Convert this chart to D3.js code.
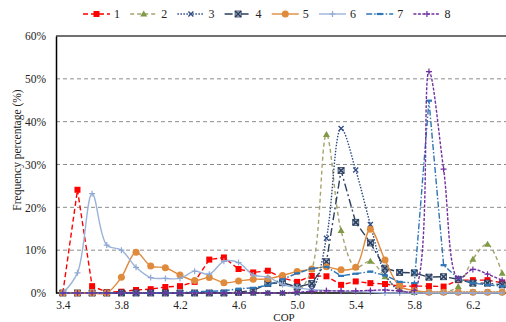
<!DOCTYPE html>
<html>
<head>
<meta charset="utf-8">
<script src="https://cdn.jsdelivr.net/npm/d3@7"></script>
<style>
  body { margin: 0; background: #fff; }
  svg { display: block; }
  svg text { font-family: "Liberation Serif", "DejaVu Serif", serif; }
</style>
</head>
<body>
<svg id="chart" width="506" height="322"></svg>
<script>
// COP categories (x axis), 3.4 .. 6.4 step 0.1
const cops = ["3.4","3.5","3.6","3.7","3.8","3.9","4.0","4.1","4.2","4.3","4.4","4.5","4.6","4.7","4.8","4.9",
  "5.0","5.1","5.2","5.3","5.4","5.5","5.6","5.7","5.8","5.9","6.0","6.1","6.2","6.3","6.4"];
const tickLabels = ["3.4","3.8","4.2","4.6","5.0","5.4","5.8","6.2"];
const yTicks = [0, 10, 20, 30, 40, 50, 60];
const seriesNames = ["1","2","3","4","5","6","7","8"];

// frequency percentage (%) per series
const s1 = [0, 24.1, 1.6, 0.2, 0.3, 0.7, 0.9, 1.4, 1.6, 2.6, 7.8, 8.3, 5.6, 4.8, 5.2, 3.5, 2.6, 4.0, 3.9, 1.9, 2.7, 2.3, 2.1, 1.6, 1.6, 1.6, 1.5, 3.0, 3.0, 3.0, 2.4];
const s2 = [0, 0, 0, 0, 0, 0, 0, 0, 0, 0, 0, 0, 0, 0, 0, 0, 0.3, 5.5, 37.0, 14.6, 6.0, 7.4, 3.8, 0.7, 0.2, 0.2, 0.2, 1.5, 7.9, 11.4, 4.6];
const s3 = [0, 0, 0, 0, 0, 0, 0, 0, 0, 0, 0, 0, 0, 0, 0, 0, 0, 0.8, 12.8, 38.4, 28.7, 16.0, 4.5, 0.5, 0.2, 0.2, 0.2, 0.2, 0.2, 0.2, 0.2];
const s4 = [0, 0, 0, 0, 0, 0, 0, 0, 0, 0, 0, 0, 0.2, 0.6, 2.2, 2.4, 1.4, 2.2, 7.3, 28.6, 16.5, 11.7, 5.8, 4.8, 4.7, 3.7, 3.8, 3.2, 2.3, 2.3, 1.9];
const s5 = [0, 0, 0, 0, 3.7, 9.5, 6.3, 5.9, 4.2, 2.9, 3.6, 2.4, 2.8, 3.2, 3.3, 4.1, 5.0, 5.6, 6.1, 5.4, 6.0, 14.9, 7.7, 1.6, 0.6, 0.2, 0.2, 0.2, 0.2, 0.2, 0.2];
const s6 = [0, 4.7, 23.2, 11.2, 10.0, 6.0, 3.6, 3.4, 3.4, 5.1, 4.4, 7.4, 7.1, 4.2, 3.7, 2.0, 1.2, 0.8, 0.6, 0.4, 0.3, 0.2, 0, 0, 0, 0, 0, 0, 0, 0, 0];
const s7 = [0, 0, 0, 0, 0, 0, 0, 0, 0.1, 0.3, 0.4, 0.5, 1.0, 1.2, 1.8, 3.2, 4.6, 5.7, 6.1, 4.0, 4.5, 5.0, 4.1, 2.6, 2.3, 44.9, 6.5, 3.4, 2.3, 1.9, 1.6];
const s8 = [0, 0, 0, 0, 0, 0, 0, 0, 0, 0, 0, 0, 0, 0, 0, 0, 0.2, 0.4, 0.5, 0.5, 0.5, 0.6, 0.7, 0.5, 0.6, 51.7, 28.9, 3.4, 5.5, 4.4, 3.0];

const allSeries = [s1, s2, s3, s4, s5, s6, s7, s8];

// look of each series
const styles = [
  {color: "#FF0000", dash: "5,3", smooth: false, marker: "square", mcolor: "#FF0000"},
  {color: "#A6A36C", dash: "4,3", smooth: true, marker: "triangle", mcolor: "#7E9A45"},
  {color: "#2E4A86", dash: "1.5,1.5", smooth: true, marker: "x", mcolor: "#2E4A86"},
  {color: "#2B3F5E", dash: "8,3,2,3", smooth: false, marker: "boxx", mcolor: "#2B3F5E"},
  {color: "#E08A3C", dash: null, smooth: true, marker: "circle", mcolor: "#E08A3C"},
  {color: "#9AB3D9", dash: null, smooth: true, marker: "plus", mcolor: "#8FA8D2"},
  {color: "#2E75B6", dash: "6,2,1.5,2", smooth: false, marker: "dash", mcolor: "#2E75B6"},
  {color: "#7030A0", dash: "3,1.5", smooth: true, marker: "plus", mcolor: "#7030A0"}
];

const FONT = "Liberation Serif, DejaVu Serif, serif";
const svg = d3.select("#chart");

const x = d3.scalePoint()
  .domain(cops)
  .range([55.5, 509.5])
  .padding(0.5);

const y = d3.scaleLinear()
  .domain([0, 60])
  .range([293, 36]);

// gridlines
svg.append("g")
  .selectAll("line")
  .data(yTicks.filter(d => d > 0 && d < 60))
  .enter()
  .append("line")
  .attr("x1", 56)
  .attr("x2", 506)
  .attr("y1", d => y(d))
  .attr("y2", d => y(d))
  .attr("stroke", "#8c8c8c")
  .attr("stroke-width", 1)
  .attr("stroke-dasharray", "4,3");

// top line at 60%
svg.append("line")
  .attr("x1", 56).attr("x2", 506)
  .attr("y1", y(60)).attr("y2", y(60))
  .attr("stroke", "#404040")
  .attr("stroke-width", 1.5);

// y axis
const yAxis = svg.append("g")
  .attr("transform", "translate(56,0)")
  .call(d3.axisLeft(y).tickValues(yTicks).tickSize(0).tickPadding(10).tickFormat(d => d + "%"));
yAxis.attr("font-family", FONT);
yAxis.select(".domain").attr("stroke", "#000").attr("stroke-width", 1.5);
yAxis.selectAll("text").attr("font-size", 11.5).attr("fill", "#222");

// x axis
const xAxis = svg.append("g")
  .attr("transform", "translate(0,293)")
  .call(d3.axisBottom(x).tickValues(tickLabels).tickSize(0).tickPadding(8));
xAxis.attr("font-family", FONT);
xAxis.select(".domain").attr("stroke", "#000").attr("stroke-width", 1.5)
  .attr("d", "M56,0H506");
xAxis.selectAll("text").attr("font-size", 11.5).attr("fill", "#222");

// axis titles
svg.append("text")
  .attr("transform", "translate(21,150) rotate(-90)")
  .attr("text-anchor", "middle")
  .attr("font-family", FONT)
  .attr("font-size", 11.5)
  .attr("fill", "#222")
  .text("Frequency percentage (%)");

svg.append("text")
  .attr("x", 284)
  .attr("y", 320.5)
  .attr("text-anchor", "middle")
  .attr("font-family", FONT)
  .attr("font-size", 11)
  .attr("fill", "#222")
  .text("COP");

function drawMarker(g, type, color, cx, cy) {
  if (type === "square") {
    g.append("rect").attr("x", cx - 3).attr("y", cy - 3).attr("width", 6).attr("height", 6).attr("fill", color);
  } else if (type === "triangle") {
    g.append("path").attr("d", `M${cx},${cy - 3.5}L${cx + 3.5},${cy + 2.5}L${cx - 3.5},${cy + 2.5}Z`).attr("fill", color);
  } else if (type === "circle") {
    g.append("circle").attr("cx", cx).attr("cy", cy).attr("r", 3.5).attr("fill", color);
  } else if (type === "x") {
    g.append("path").attr("d", `M${cx - 2.5},${cy - 2.5}L${cx + 2.5},${cy + 2.5}M${cx - 2.5},${cy + 2.5}L${cx + 2.5},${cy - 2.5}`)
      .attr("stroke", color).attr("stroke-width", 1.3).attr("fill", "none");
  } else if (type === "boxx") {
    g.append("rect").attr("x", cx - 3).attr("y", cy - 3).attr("width", 6).attr("height", 6)
      .attr("fill", "#b8c4d8").attr("stroke", color).attr("stroke-width", 0.8);
    g.append("path").attr("d", `M${cx - 3},${cy - 3}L${cx + 3},${cy + 3}M${cx - 3},${cy + 3}L${cx + 3},${cy - 3}`)
      .attr("stroke", color).attr("stroke-width", 1.6);
  } else if (type === "plus") {
    g.append("path").attr("d", `M${cx - 3},${cy}H${cx + 3}M${cx},${cy - 3}V${cy + 3}`)
      .attr("stroke", color).attr("stroke-width", 1.2);
  } else if (type === "dash") {
    g.append("path").attr("d", `M${cx - 3},${cy}H${cx + 3}`)
      .attr("stroke", color).attr("stroke-width", 2.2);
  }
}

// lines + markers, series 1 drawn first
allSeries.forEach((values, k) => {
  const st = styles[k];
  const line = d3.line()
    .x((d, i) => x(cops[i]))
    .y(d => y(d))
    .curve(st.smooth ? d3.curveCatmullRom.alpha(0.5) : d3.curveLinear);

  const g = svg.append("g").attr("class", "series-" + seriesNames[k]);
  g.append("path")
    .datum(values)
    .attr("d", line)
    .attr("fill", "none")
    .attr("stroke", st.color)
    .attr("stroke-width", 1.4)
    .attr("stroke-dasharray", st.dash);

  values.forEach((v, i) => drawMarker(g, st.marker, st.mcolor, x(cops[i]), y(v)));
});

// legend
const legend = svg.append("g").attr("transform", "translate(83,14)");
seriesNames.forEach((name, k) => {
  const st = styles[k];
  const g = legend.append("g").attr("transform", "translate(" + (k * 47.2) + ",0)");
  g.append("line")
    .attr("x1", 0).attr("x2", 27).attr("y1", 0).attr("y2", 0)
    .attr("stroke", st.color)
    .attr("stroke-width", 1.4)
    .attr("stroke-dasharray", st.dash);
  drawMarker(g, st.marker, st.mcolor, 13.5, 0);
  g.append("text")
    .attr("x", 31)
    .attr("y", 4)
    .attr("font-family", FONT)
    .attr("font-size", 12)
    .attr("fill", "#222")
    .text(name);
});
</script>
</body>
</html>
